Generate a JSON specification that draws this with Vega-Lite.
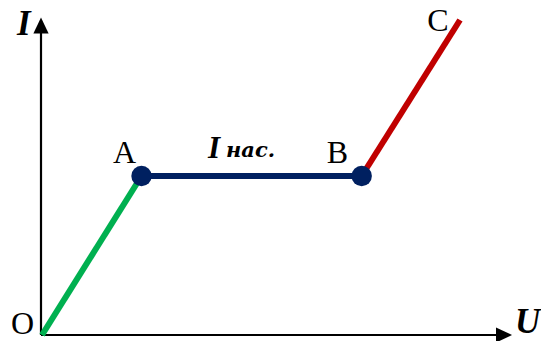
{
  "$schema": "https://vega.github.io/schema/vega-lite/v6.json",
  "width": 541,
  "height": 341,
  "autosize": {"type": "none"},
  "padding": 0,
  "background": "white",
  "config": {"view": {"stroke": null}},
  "layer": [
    {
      "data": {"values": [
        {"axis": "x", "u": 0, "i": 0},
        {"axis": "x", "u": 458, "i": 0},
        {"axis": "y", "u": 0, "i": 0},
        {"axis": "y", "u": 0, "i": 305}
      ]},
      "mark": {"type": "line", "color": "black", "strokeWidth": 2.2},
      "encoding": {
        "detail": {"field": "axis"},
        "x": {"field": "u", "type": "quantitative", "scale": {"domain": [-41, 500], "nice": false, "zero": false}, "axis": null},
        "y": {"field": "i", "type": "quantitative", "scale": {"domain": [-6, 335], "nice": false, "zero": false}, "axis": null}
      }
    },
    {
      "data": {"values": [
        {"dir": "up", "u": 0, "i": 309.5},
        {"dir": "right", "u": 463, "i": 0}
      ]},
      "mark": {"type": "point", "filled": true, "color": "black", "opacity": 1, "size": 256},
      "encoding": {
        "x": {"field": "u", "type": "quantitative"},
        "y": {"field": "i", "type": "quantitative"},
        "shape": {"field": "dir", "type": "nominal", "scale": {"domain": ["up", "right"], "range": ["M-0.95,1L0,-1L0.95,1Z", "M-1,-0.95L1,0L-1,0.95Z"]}, "legend": null}
      }
    },
    {
      "data": {"values": [
        {"seg": "OA", "o": 1, "u": 1, "i": 0},
        {"seg": "OA", "o": 2, "u": 100.5, "i": 159},
        {"seg": "AB", "o": 1, "u": 100.5, "i": 159},
        {"seg": "AB", "o": 2, "u": 320.7, "i": 159},
        {"seg": "BC", "o": 1, "u": 320.7, "i": 159},
        {"seg": "BC", "o": 2, "u": 419, "i": 315}
      ]},
      "mark": {"type": "line", "strokeWidth": 6, "strokeCap": "butt"},
      "encoding": {
        "x": {"field": "u", "type": "quantitative"},
        "y": {"field": "i", "type": "quantitative"},
        "order": {"field": "o"},
        "color": {"field": "seg", "type": "nominal", "scale": {"domain": ["OA", "AB", "BC"], "range": ["#00b050", "#002060", "#c00000"]}, "legend": null}
      }
    },
    {
      "data": {"values": [
        {"p": "A", "u": 100.5, "i": 159},
        {"p": "B", "u": 320.7, "i": 159}
      ]},
      "mark": {"type": "circle", "color": "#002060", "opacity": 1, "size": 415},
      "encoding": {
        "x": {"field": "u", "type": "quantitative"},
        "y": {"field": "i", "type": "quantitative"}
      }
    },
    {
      "data": {"values": [
        {"t": "O", "u": -18.5, "i": 1},
        {"t": "A", "u": 83.5, "i": 172},
        {"t": "B", "u": 296.5, "i": 172},
        {"t": "C", "u": 397, "i": 304}
      ]},
      "mark": {"type": "text", "font": "Liberation Serif", "fontSize": 32, "align": "center", "baseline": "alphabetic", "color": "black"},
      "encoding": {
        "x": {"field": "u", "type": "quantitative"},
        "y": {"field": "i", "type": "quantitative"},
        "text": {"field": "t"}
      }
    },
    {
      "data": {"values": [
        {"t": "I", "u": -24, "i": 300}
      ]},
      "mark": {"type": "text", "font": "Liberation Serif", "fontWeight": "bold", "fontStyle": "italic", "fontSize": 35, "align": "left", "baseline": "alphabetic", "color": "black"},
      "encoding": {
        "x": {"field": "u", "type": "quantitative"},
        "y": {"field": "i", "type": "quantitative"},
        "text": {"field": "t"}
      }
    },
    {
      "data": {"values": [
        {"t": "U", "u": 474, "i": -5}
      ]},
      "mark": {"type": "text", "font": "Liberation Serif", "fontWeight": "bold", "fontStyle": "italic", "fontSize": 35, "align": "left", "baseline": "bottom", "color": "black"},
      "encoding": {
        "x": {"field": "u", "type": "quantitative"},
        "y": {"field": "i", "type": "quantitative"},
        "text": {"field": "t"}
      }
    },
    {
      "data": {"values": [
        {"t": "I", "u": 167, "i": 177}
      ]},
      "mark": {"type": "text", "font": "Liberation Serif", "fontWeight": "bold", "fontStyle": "italic", "fontSize": 31, "align": "left", "baseline": "alphabetic", "color": "black"},
      "encoding": {
        "x": {"field": "u", "type": "quantitative"},
        "y": {"field": "i", "type": "quantitative"},
        "text": {"field": "t"}
      }
    },
    {
      "data": {"values": [
        {"t": "нас.", "u": 185, "i": 178}
      ]},
      "mark": {"type": "text", "font": "DejaVu Serif", "fontWeight": "bold", "fontStyle": "italic", "fontSize": 21, "align": "left", "baseline": "alphabetic", "color": "black"},
      "encoding": {
        "x": {"field": "u", "type": "quantitative"},
        "y": {"field": "i", "type": "quantitative"},
        "text": {"field": "t"}
      }
    }
  ]
}
